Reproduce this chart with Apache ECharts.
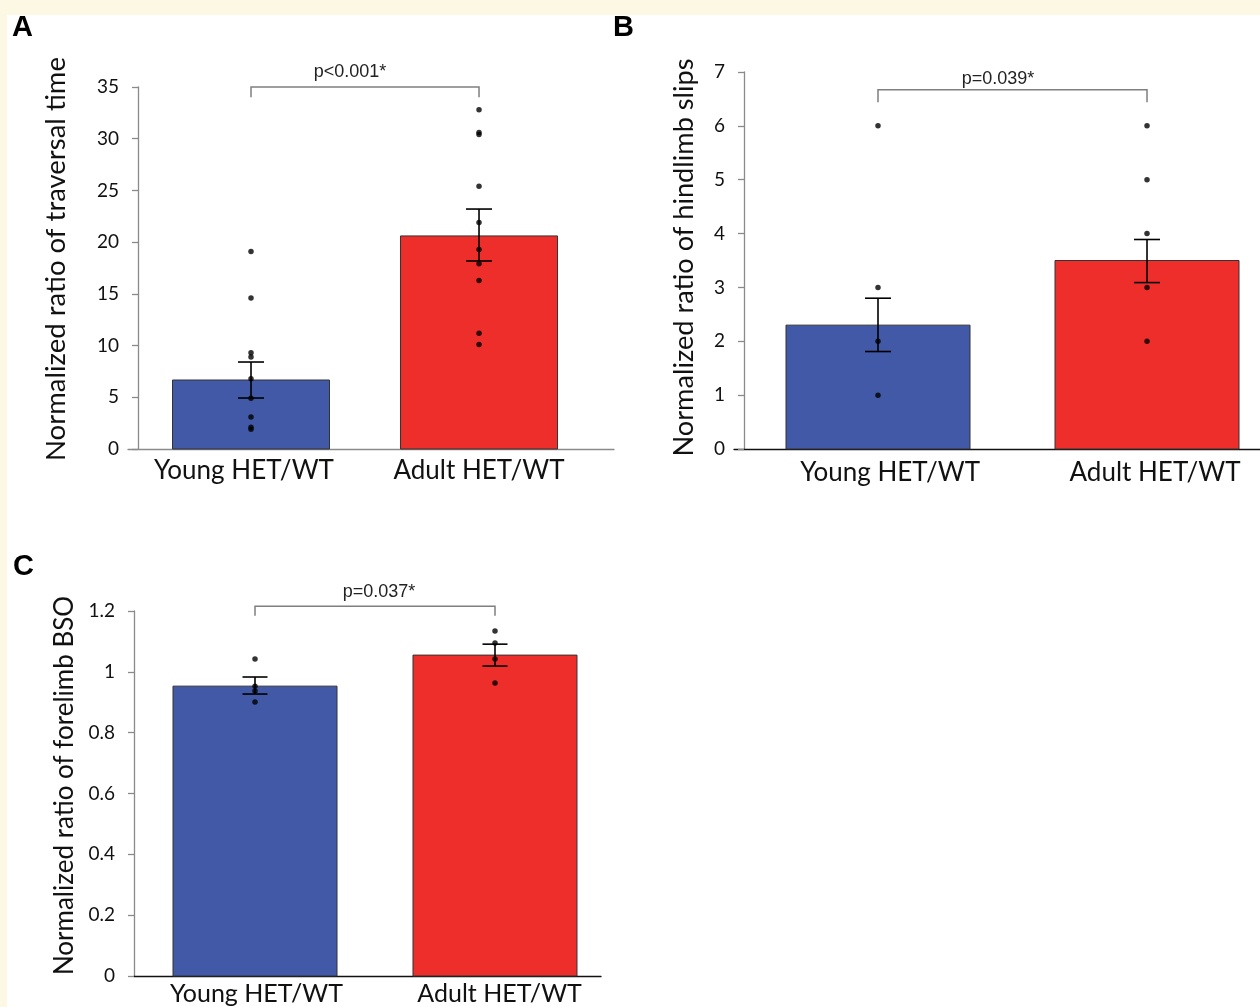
<!DOCTYPE html>
<html><head><meta charset="utf-8">
<script src="https://cdn.jsdelivr.net/npm/echarts@6/dist/echarts.min.js"></script>
<style>html,body{margin:0;padding:0;background:#fff}#c{width:1260px;height:1007px}</style>
</head><body><div id="c"></div>
<script>
// ---------- data ----------
const categories = ['Young HET/WT', 'Adult HET/WT'];

// Panel A: traversal time
const aMeans = [6.67, 20.6];
const aErrLow = [4.93, 18.18];
const aErrHigh = [8.41, 23.2];
const aDotsYoung = [19.1, 14.6, 9.3, 8.9, 6.8, 4.9, 3.1, 2.1, 1.9];
const aDotsAdult = [32.8, 30.6, 30.4, 25.4, 21.9, 19.3, 17.9, 16.3, 11.2, 10.1];
const aYAxis = [0, 35, 5];
const aTitle = 'Normalized ratio of traversal time';
const aPText = 'p<0.001*';

// Panel B: hindlimb slips
const bMeans = [2.3, 3.5];
const bErrLow = [1.81, 3.09];
const bErrHigh = [2.8, 3.89];
const bDotsYoung = [6, 3, 2, 1];
const bDotsAdult = [6, 5, 4, 3, 2];
const bYAxis = [0, 7, 1];
const bTitle = 'Normalized ratio of hindlimb slips';
const bPText = 'p=0.039*';

// Panel C: forelimb BSO
const cMeans = [0.953, 1.055];
const cErrLow = [0.927, 1.019];
const cErrHigh = [0.983, 1.091];
const cDotsYoung = [1.042, 0.953, 0.937, 0.901];
const cDotsAdult = [1.134, 1.095, 1.042, 0.963];
const cYAxis = [0, 1.2, 0.2];
const cTitle = 'Normalized ratio of forelimb BSO';
const cPText = 'p=0.037*';

// ---------- layout / style ----------
const barColors = ['#4159a6', '#ee2e2b'];
const FONT = 'Lato';
const panels = [
  { letter: 'A', means: aMeans, lo: aErrLow, hi: aErrHigh, dots: [aDotsYoung, aDotsAdult], y: aYAxis, title: aTitle, p: aPText,
    grid: { left: 128, top: 87, width: 486, height: 362 }, xMin: -0.5395, xMax: 1.592, yOffset: -10,
    barW: 157, capW: 26, br: [35, 34.0], pPos: [0.434, 36.45], labelX: [-0.031, 1],
    yCol: '#8a8a8a', xCol: '#8a8a8a', nameGap: 68, namePad: 18, nameSize: 27.5, catMargin: 9, catSize: 26, letterPos: [12, 28] },
  { letter: 'B', means: bMeans, lo: bErrLow, hi: bErrHigh, dots: [bDotsYoung, bDotsAdult], y: bYAxis, title: bTitle, p: bPText,
    grid: { left: 734, top: 72, right: 0, height: 377 }, xMin: -0.5353, xMax: 1.42, yOffset: -10,
    barW: 184, capW: 26, br: [6.67, 6.44], pPos: [0.446, 6.87], labelX: [0.045, 1.03],
    yCol: '#8a8a8a', xCol: '#111', nameGap: 46, namePad: 6, nameSize: 27.2, catMargin: 11, catSize: 26, letterPos: [613, 28] },
  { letter: 'C', means: cMeans, lo: cErrLow, hi: cErrHigh, dots: [cDotsYoung, cDotsAdult], y: cYAxis, title: cTitle, p: cPText,
    grid: { left: 134, top: 611, width: 467, height: 365 }, xMin: -0.5042, xMax: 1.4417, yOffset: 0,
    barW: 164, capW: 25, br: [1.216, 1.184], pPos: [0.517, 1.261], labelX: [0.006, 1.019],
    yCol: '#8a8a8a', xCol: '#111', nameGap: 56, namePad: 16, nameSize: 26, catMargin: 5, catSize: 25, letterPos: [13, 567] }
];

const grids = [], xAxes = [], yAxes = [], series = [], graphics = [];

graphics.push({ type: 'rect', shape: { x: 0, y: 0, width: 1260, height: 15 }, style: { fill: '#fdf8e3' }, z: 100 });
graphics.push({ type: 'rect', shape: { x: 0, y: 0, width: 7, height: 1007 }, style: { fill: '#fdf8e3' }, z: 100 });

panels.forEach((P, i) => {
  grids.push(Object.assign({ containLabel: false }, P.grid));
  xAxes.push({
    gridIndex: i, type: 'value', min: P.xMin, max: P.xMax,
    axisLine: { show: true, onZero: false, lineStyle: { color: P.xCol, width: 1.3 } },
    axisTick: { show: false }, splitLine: { show: false },
    axisLabel: {
      customValues: P.labelX, margin: P.catMargin,
      formatter: v => categories[P.labelX.indexOf(v)] ?? '',
      fontFamily: FONT, fontSize: P.catSize, color: '#111'
    }
  });
  yAxes.push({
    gridIndex: i, type: 'value', min: P.y[0], max: P.y[1], interval: P.y[2], offset: P.yOffset,
    axisLine: { show: true, onZero: false, lineStyle: { color: P.yCol, width: 1.3 } },
    axisTick: { show: true, length: 6, lineStyle: { color: P.yCol, width: 1.3 } },
    splitLine: { show: false },
    axisLabel: { fontFamily: FONT, fontSize: 19, color: '#111', margin: 19 },
    name: P.title, nameLocation: 'middle', nameGap: P.nameGap,
    nameTextStyle: { fontFamily: FONT, fontSize: P.nameSize, color: '#111', padding: [0, 0, 0, P.namePad] }
  });
  const xy = { xAxisIndex: i, yAxisIndex: i };
  // bars
  series.push(Object.assign({
    type: 'custom', z: 2, clip: false,
    data: P.means.map((m, k) => [k, m]),
    renderItem: (params, api) => {
      const x = api.value(0), v = api.value(1);
      const top = api.coord([x, v]), bot = api.coord([x, 0]);
      return { type: 'rect', shape: { x: top[0] - P.barW / 2, y: top[1], width: P.barW, height: bot[1] - top[1] },
        style: { fill: barColors[params.dataIndex], stroke: '#333', lineWidth: 1 } };
    }
  }, xy));
  // dots
  series.push(Object.assign({
    type: 'scatter', z: 4, symbol: 'circle', symbolSize: 5.5,
    itemStyle: { color: '#000' },
    data: P.dots.flatMap((arr, k) => arr.map(v => [k, v]))
  }, xy));
  // error bars
  series.push(Object.assign({
    type: 'custom', z: 5, clip: false,
    data: P.means.map((m, k) => [k, P.lo[k], P.hi[k]]),
    renderItem: (params, api) => {
      const x = api.value(0);
      const a = api.coord([x, api.value(1)]), b = api.coord([x, api.value(2)]);
      const s = { stroke: '#000', lineWidth: 1.6 };
      const h = P.capW / 2;
      return { type: 'group', children: [
        { type: 'line', shape: { x1: a[0], y1: a[1], x2: b[0], y2: b[1] }, style: s },
        { type: 'line', shape: { x1: a[0] - h, y1: a[1], x2: a[0] + h, y2: a[1] }, style: s },
        { type: 'line', shape: { x1: b[0] - h, y1: b[1], x2: b[0] + h, y2: b[1] }, style: s }
      ] };
    }
  }, xy));
  // significance bracket
  series.push(Object.assign({
    type: 'custom', z: 5, clip: false,
    data: [[0, 1, P.br[0], P.br[1], P.pPos[0], P.pPos[1]]],
    renderItem: (params, api) => {
      const l0 = api.coord([api.value(0), api.value(3)]), l1 = api.coord([api.value(0), api.value(2)]);
      const r1 = api.coord([api.value(1), api.value(2)]), r0 = api.coord([api.value(1), api.value(3)]);
      const t = api.coord([api.value(4), api.value(5)]);
      return { type: 'group', children: [
        { type: 'polyline', shape: { points: [l0, l1, r1, r0] }, style: { stroke: '#7f7f7f', lineWidth: 1.5, fill: null } },
        { type: 'text', x: t[0], y: t[1], style: { text: P.p, font: '18px "Liberation Sans", Arial, sans-serif', fill: '#222', align: 'center', verticalAlign: 'middle' } }
      ] };
    }
  }, xy));
  graphics.push({ type: 'text', x: P.letterPos[0], y: P.letterPos[1], z: 100,
    style: { text: P.letter, font: 'bold 29px "Liberation Sans", Arial, sans-serif', fill: '#000', verticalAlign: 'middle' } });
});

const chart = echarts.init(document.getElementById('c'), null, { renderer: 'canvas' });
chart.setOption({
  backgroundColor: '#ffffff',
  animation: false,
  grid: grids, xAxis: xAxes, yAxis: yAxes, series: series,
  graphic: { elements: graphics }
});
</script></body></html>
